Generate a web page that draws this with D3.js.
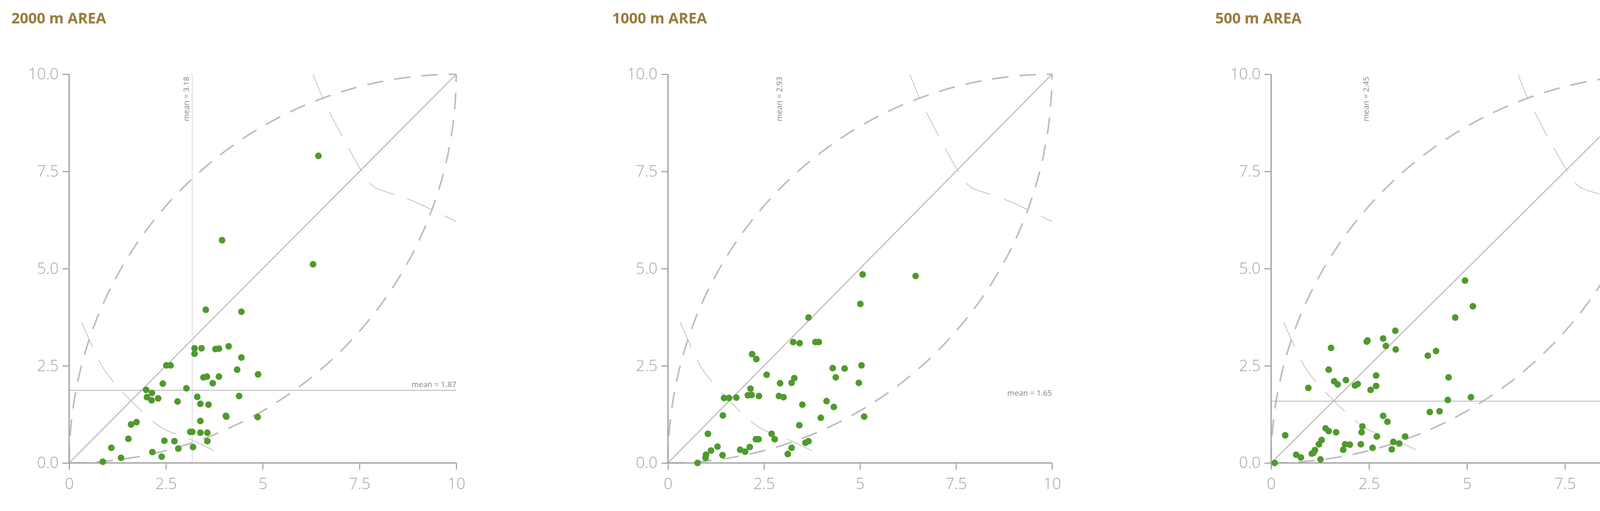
<!DOCTYPE html>
<html><head><meta charset="utf-8">
<script src="https://cdn.jsdelivr.net/npm/d3@7"></script>
<style>body{margin:0;background:#fff}</style>
</head><body>
<script>
const titles = ["2000 m AREA","1000 m AREA","500 m AREA"];
const meanX = [3.18, 2.93, 2.45];
const meanY = [1.87, 1.65, 1.59];
const showVLine = [true, false, false];
const showHLine = [true, false, true];
const xTicks = [0, 2.5, 5, 7.5, 10];
const xTickLabels = ["0","2.5","5","7.5","10"];
const yTicks = [0, 2.5, 5, 7.5, 10];
const yTickLabels = ["0.0","2.5","5.0","7.5","10.0"];
const pts2000 = [[6.44,7.90],[3.95,5.73],[6.30,5.11],[3.53,3.94],[4.45,3.89],[3.24,2.95],[3.42,2.95],[3.24,2.81],[3.78,2.93],[3.87,2.94],[4.12,3.00],[4.45,2.71],[2.51,2.51],[2.62,2.51],[4.34,2.40],[4.88,2.28],[3.47,2.20],[3.56,2.22],[3.87,2.22],[3.71,2.05],[2.42,2.04],[3.03,1.92],[1.99,1.88],[2.14,1.80],[2.01,1.69],[2.13,1.61],[2.30,1.66],[2.80,1.58],[3.31,1.70],[3.39,1.52],[3.60,1.50],[4.39,1.72],[4.05,1.21],[4.06,1.19],[4.87,1.18],[1.60,0.99],[1.74,1.05],[3.39,1.08],[3.13,0.80],[3.18,0.80],[3.39,0.78],[3.57,0.78],[3.57,0.56],[1.53,0.62],[1.09,0.39],[2.46,0.57],[2.72,0.56],[2.82,0.37],[3.20,0.41],[2.15,0.28],[1.34,0.13],[2.39,0.16],[0.87,0.03]];
const pts1000 = [[6.45,4.81],[5.07,4.85],[5.01,4.09],[3.66,3.74],[3.26,3.11],[3.43,3.08],[3.84,3.11],[3.93,3.11],[2.19,2.80],[2.30,2.67],[5.04,2.51],[4.29,2.44],[4.60,2.43],[4.37,2.20],[2.57,2.27],[3.29,2.18],[3.22,2.06],[2.92,2.05],[4.97,2.06],[2.15,1.91],[2.08,1.74],[2.18,1.75],[2.37,1.72],[2.89,1.72],[3.01,1.69],[1.46,1.67],[1.59,1.67],[1.78,1.68],[3.50,1.50],[4.13,1.59],[4.32,1.44],[1.43,1.22],[3.98,1.16],[5.11,1.19],[3.42,0.97],[1.04,0.75],[2.70,0.75],[2.78,0.61],[2.29,0.61],[2.36,0.61],[3.58,0.52],[3.66,0.56],[1.29,0.42],[1.12,0.32],[0.99,0.21],[0.98,0.13],[1.42,0.20],[1.88,0.34],[2.01,0.29],[2.13,0.41],[3.22,0.39],[3.12,0.23],[0.77,0.00]];
const pts500 = [[4.95,4.69],[5.15,4.03],[4.70,3.74],[3.17,3.40],[2.44,3.12],[2.46,3.15],[2.86,3.20],[2.93,3.01],[3.18,2.92],[1.53,2.96],[4.00,2.76],[4.21,2.88],[1.47,2.40],[2.68,2.25],[4.53,2.20],[1.61,2.10],[1.70,2.02],[1.91,2.13],[2.14,1.99],[2.21,2.03],[2.68,1.98],[2.54,1.88],[0.95,1.93],[4.51,1.62],[5.10,1.69],[4.05,1.31],[4.30,1.33],[2.86,1.21],[2.97,1.06],[1.39,0.89],[1.47,0.82],[1.66,0.79],[2.33,0.94],[2.31,0.79],[2.70,0.68],[3.42,0.68],[0.36,0.71],[1.29,0.59],[1.22,0.48],[1.12,0.33],[1.08,0.26],[1.04,0.24],[1.89,0.48],[2.01,0.47],[1.84,0.34],[2.29,0.48],[2.59,0.39],[3.12,0.54],[3.27,0.50],[3.08,0.35],[0.64,0.21],[0.76,0.14],[1.26,0.09],[0.09,0.00]];
const series = [pts2000, pts1000, pts500];
// guide curves (reference shapes)
const guideLow = [[0.32,3.62],[0.66,2.86],[0.99,2.28],[1.6,1.6],[2.34,0.94],[2.92,0.69],[3.76,0.31]];
const guideHigh = [[6.3,10],[6.71,9.06],[7.5,7.6],[7.97,7.05],[8.72,6.8],[10,6.21]];

const W=4276,H=1308;
const svg=d3.select("body").append("svg").attr("width",W).attr("height",H);
const panels=[{x0:177,w:991,tx:29},{x0:1710,w:983,tx:1567},{x0:3254,w:1003,tx:3111}];
const plotTop=190,plotBottom=1185;
const font="'Open Sans', 'Liberation Sans', sans-serif";
const ang=d3.range(0,91,2).map(d=>d*Math.PI/180);

panels.forEach((p,i)=>{
  const g=svg.append("g");
  const x=d3.scaleLinear().domain([0,10]).range([p.x0,p.x0+p.w]);
  const y=d3.scaleLinear().domain([0,10]).range([plotBottom,plotTop]);
  g.append("text").attr("x",p.tx).attr("y",60).text(titles[i])
   .attr("font-family",font).attr("font-weight",700).attr("font-size",38).attr("fill","#9a7b3e");
  const line=d3.line().x(d=>x(d[0])).y(d=>y(d[1]));
  const up=ang.map(t=>[10-10*Math.cos(t),10*Math.sin(t)]);
  const lo=ang.map(t=>[10*Math.sin(t),10-10*Math.cos(t)]);
  [up,lo].forEach(c=>g.append("path").attr("d",line(c)).attr("fill","none")
    .attr("stroke","#bdbdbd").attr("stroke-width",4).attr("stroke-dasharray","42,28"));
  const cl=d3.line().x(d=>x(d[0])).y(d=>y(d[1])).curve(d3.curveNatural);
  [guideLow,guideHigh].forEach(c=>g.append("path").attr("d",cl(c)).attr("fill","none")
    .attr("stroke","#bdbdbd").attr("stroke-width",1.8).attr("stroke-dasharray","70,35"));
  g.append("path").attr("d",line([[0,0],[10,10]])).attr("stroke","#bfbfbf").attr("stroke-width",3);
  if(showVLine[i]) g.append("line").attr("x1",x(meanX[i])).attr("x2",x(meanX[i])).attr("y1",y(0)).attr("y2",y(10))
     .attr("stroke","#cfcfcf").attr("stroke-width",1.5);
  if(showHLine[i]) g.append("line").attr("x1",x(0)).attr("x2",x(10)).attr("y1",y(meanY[i])).attr("y2",y(meanY[i]))
     .attr("stroke","#9e9e9e").attr("stroke-width",1.5);
  const vx = showVLine[i]? x(meanX[i])-8 : x(meanX[i])+4;
  g.append("text").attr("transform",`translate(${vx},${y(10)+6}) rotate(-90)`).attr("text-anchor","end")
   .attr("font-family",font).attr("font-size",20).attr("fill","#8a8a8a").text("mean = "+meanX[i].toFixed(2));
  g.append("text").attr("x",x(10)).attr("y",y(meanY[i])-8).attr("text-anchor","end")
   .attr("font-family",font).attr("font-size",20).attr("fill","#8a8a8a").text("mean = "+meanY[i].toFixed(2));
  const ya=g.append("g").attr("transform",`translate(${x(0)},0)`)
    .call(d3.axisLeft(y).tickValues(yTicks).tickFormat((d,k)=>yTickLabels[k]).tickSize(17).tickPadding(10));
  const xa=g.append("g").attr("transform",`translate(0,${y(0)})`)
    .call(d3.axisBottom(x).tickValues(xTicks).tickFormat((d,k)=>xTickLabels[k]).tickSize(17).tickPadding(22));
  [ya,xa].forEach(a=>{a.select(".domain").attr("stroke","#a6a6a6").attr("stroke-width",3.5);
    a.selectAll(".tick line").attr("stroke","#a6a6a6").attr("stroke-width",3);
    a.selectAll("text").attr("font-family",font).attr("font-weight",300).attr("font-size",40).attr("fill","#a6a6a6");});
  ya.select(".domain").attr("d",`M0,${y(10)}V${y(0)}`);
  xa.select(".domain").attr("d",`M${x(0)},0H${x(10)}`);
  g.append("g").selectAll("circle").data(series[i]).join("circle")
   .attr("cx",d=>x(d[0])).attr("cy",d=>y(d[1])).attr("r",8.5).attr("fill","#4f9a2c");
});
</script>
</body></html>
